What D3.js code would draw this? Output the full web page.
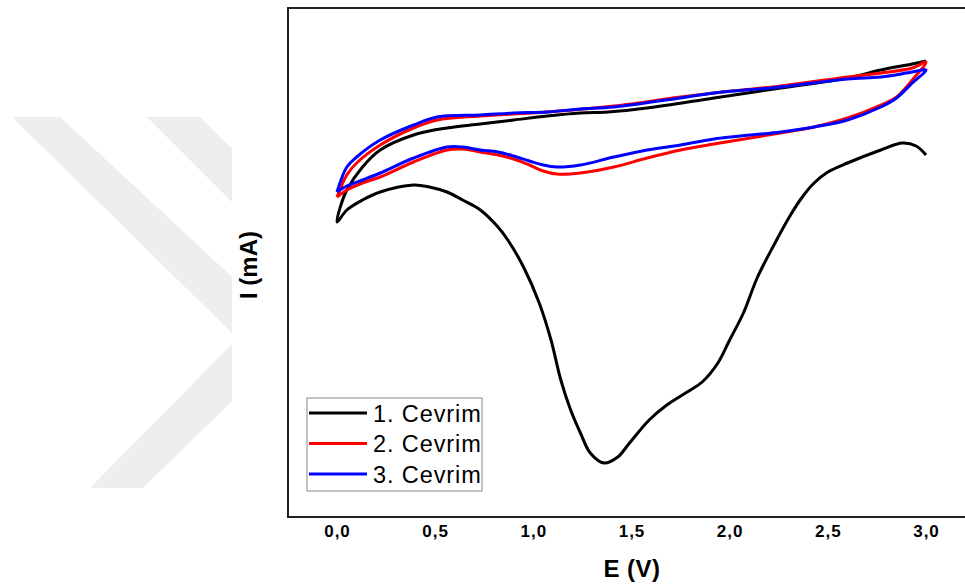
<!DOCTYPE html>
<html>
<head>
<meta charset="utf-8">
<title>CV</title>
<script src="https://cdn.jsdelivr.net/npm/d3@7"></script>
<style>
    body {margin: 0; background: #fff;}
    text {font-family: Arial, "Liberation Sans", sans-serif;}
</style>
</head>
<body>
<div id="chart"></div>
<script>
// cycle data: [E (V), I (mA, relative)]
const cycle1 = [
    [3.0,1.45],[2.95,1.54],[2.88,1.57],[2.77,1.50],[2.6,1.37],[2.5,1.28],[2.43,1.17],[2.37,1.03],[2.31,0.85],
    [2.22,0.53],[2.14,0.22],[2.07,-0.13],[2.0,-0.40],[1.94,-0.63],[1.86,-0.82],[1.80,-0.90],
    [1.68,-1.05],[1.59,-1.20],[1.49,-1.43],[1.43,-1.57],[1.36,-1.63],[1.29,-1.53],[1.24,-1.33],
    [1.19,-1.10],[1.14,-0.80],[1.09,-0.40],[1.03,-0.03],[0.95,0.33],[0.87,0.60],[0.82,0.73],
    [0.73,0.90],[0.64,1.00],[0.56,1.08],[0.47,1.13],[0.39,1.15],[0.22,1.08],[0.13,1.00],
    [0.05,0.90],[0.0,0.78],
    [0.02,0.95],[0.05,1.10],[0.13,1.33],[0.22,1.50],[0.39,1.65],[0.56,1.72],[0.73,1.76],
    [0.90,1.80],[1.07,1.84],[1.24,1.87],[1.38,1.88],[1.58,1.92],[1.92,2.02],[2.26,2.12],
    [2.6,2.22],[2.77,2.30],[2.93,2.36],[3.0,2.39]
];
const cycle2 = [
    [0.0,1.03],[0.05,1.25],[0.10,1.37],[0.22,1.55],[0.39,1.72],[0.51,1.80],[0.73,1.84],[1.07,1.88],
    [1.41,1.94],[1.75,2.03],[1.92,2.07],[2.26,2.14],[2.6,2.23],[2.77,2.27],[2.93,2.32],[3.0,2.38],
    [2.93,2.20],[2.85,2.03],[2.77,1.95],[2.6,1.82],[2.43,1.73],[2.26,1.67],[1.92,1.56],[1.75,1.50],
    [1.58,1.42],[1.41,1.33],[1.24,1.27],[1.12,1.26],[1.05,1.29],[0.98,1.35],[0.90,1.41],[0.82,1.45],
    [0.73,1.48],[0.64,1.51],[0.56,1.50],[0.39,1.38],[0.22,1.23],[0.13,1.17],[0.05,1.10],[0.0,1.03]
];
const cycle3 = [
    [0.0,1.08],[0.05,1.33],[0.10,1.43],[0.22,1.60],[0.39,1.75],[0.51,1.83],[0.73,1.85],[0.90,1.87],
    [1.07,1.88],[1.24,1.91],[1.41,1.93],[1.75,2.02],[1.92,2.07],[2.26,2.13],[2.6,2.21],[2.77,2.23],
    [2.93,2.28],[3.0,2.30],
    [2.93,2.17],[2.85,2.02],[2.77,1.93],[2.6,1.80],[2.43,1.73],[2.26,1.68],[1.92,1.61],[1.75,1.55],
    [1.58,1.50],[1.41,1.43],[1.24,1.35],[1.12,1.33],[1.05,1.35],[0.98,1.39],[0.90,1.44],[0.82,1.48],
    [0.73,1.50],[0.64,1.53],[0.56,1.53],[0.39,1.42],[0.22,1.27],[0.13,1.20],[0.05,1.14],[0.0,1.08]
];
const seriesNames = ['1. Cevrim', '2. Cevrim', '3. Cevrim'];
const seriesColors = ['#000000', '#ff0000', '#0000ff'];
const xTicks = [0, 0.5, 1.0, 1.5, 2.0, 2.5, 3.0];

const w = 965, h = 587;
const frame = {left: 288, top: 8, right: 975, bottom: 517};

const svg = d3.select('#chart').append('svg')
    .attr('width', w).attr('height', h);

// faint watermark on the left (decoration)
svg.append('clipPath').attr('id', 'wm').append('rect')
    .attr('x', 0).attr('y', 0).attr('width', 232).attr('height', h);
const wm = svg.append('g').attr('clip-path', 'url(#wm)').attr('fill', '#eeeeee');
[
    [[12,117],[60,117],[300,340],[300,400]],
    [[90,488],[143,488],[300,335],[300,275]],
    [[147,117],[200,117],[300,215],[300,270]]
].forEach(p => wm.append('polygon').attr('points', p.join(' ')));

const x = d3.scaleLinear().domain([0, 3]).range([337, 926]);
const y = d3.scaleLinear().domain([-2.17, 2.92]).range([frame.bottom, frame.top]);

svg.append('rect')
    .attr('x', frame.left).attr('y', frame.top)
    .attr('width', frame.right - frame.left).attr('height', frame.bottom - frame.top)
    .attr('fill', '#fff').attr('stroke', '#222').attr('stroke-width', 2);

const line = d3.line()
    .x(d => x(d[0])).y(d => y(d[1]))
    .curve(d3.curveCatmullRom.alpha(0.5));

[cycle1, cycle2, cycle3].forEach((c, i) => {
    svg.append('path').datum(c)
        .attr('d', line)
        .attr('fill', 'none')
        .attr('stroke', seriesColors[i])
        .attr('stroke-width', 3)
        .attr('stroke-linejoin', 'round');
});

const xAxis = svg.append('g')
    .attr('transform', `translate(0, ${frame.bottom})`)
    .call(d3.axisBottom(x).tickValues(xTicks).tickSize(0).tickPadding(8)
        .tickFormat(d => d3.format('.1f')(d).replace('.', ',')));
xAxis.select('.domain').remove();
xAxis.selectAll('text')
    .attr('font-family', 'Arial, "Liberation Sans", sans-serif')
    .attr('font-size', 17).attr('font-weight', 'bold').attr('fill', '#000')
    .attr('letter-spacing', 1);

svg.append('text')
    .attr('x', 632).attr('y', 577)
    .attr('text-anchor', 'middle')
    .attr('font-size', 24).attr('font-weight', 'bold')
    .attr('letter-spacing', 0.5)
    .text('E (V)');

svg.append('text')
    .attr('transform', 'translate(257, 265) rotate(-90)')
    .attr('text-anchor', 'middle')
    .attr('font-size', 24).attr('font-weight', 'bold')
    .text('I (mA)');

// legend
const lg = svg.append('g');
lg.append('rect')
    .attr('x', 307).attr('y', 398).attr('width', 175).attr('height', 93)
    .attr('fill', '#fff').attr('stroke', '#888').attr('stroke-width', 1);
seriesNames.forEach((n, i) => {
    const yy = 413 + i * 30.5;
    lg.append('line')
        .attr('x1', 309).attr('x2', 367).attr('y1', yy).attr('y2', yy)
        .attr('stroke', seriesColors[i]).attr('stroke-width', 3);
    lg.append('text')
        .attr('x', 373).attr('y', yy + 8.5)
        .attr('font-size', 23.5).attr('fill', '#000')
        .attr('letter-spacing', 0.9)
        .text(n);
});
</script>
</body>
</html>
